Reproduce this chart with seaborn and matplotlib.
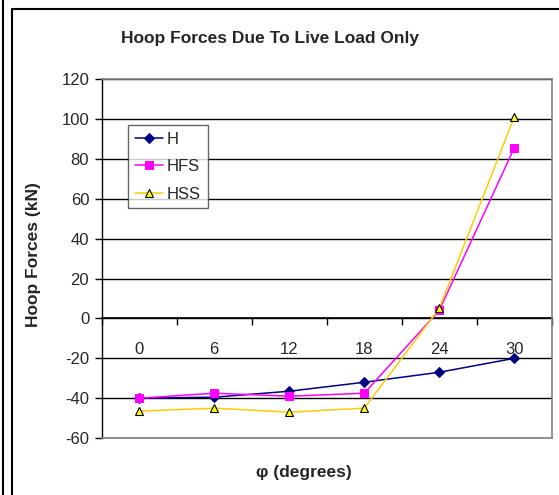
import matplotlib
matplotlib.use("Agg")
import matplotlib.pyplot as plt
from matplotlib.lines import Line2D
import seaborn as sns
import pandas as pd

categories = ["0", "6", "12", "18", "24", "30"]
H = [-40, -39.5, -36.5, -32, -27, -20]
HFS = [-40, -37.5, -39, -37.5, 4, 85.5]
HSS = [-46.5, -45, -47, -45, 5, 101]
yticks = [-60, -40, -20, 0, 20, 40, 60, 80, 100, 120]

sns.set_style("white")
plt.rcParams['font.family'] = ['Liberation Sans', 'DejaVu Sans']

rows = []
for name, vals in [("H", H), ("HFS", HFS), ("HSS", HSS)]:
    for i, (c, v) in enumerate(zip(categories, vals)):
        rows.append({"pos": i, "cat": c, "value": v, "series": name})
df = pd.DataFrame(rows)

fig = plt.figure(figsize=(5.59, 4.95), dpi=100)
ax = fig.add_axes([0.182, 0.115, 0.805, 0.725])

palette = {"H": "#000080", "HFS": "#FF00FF", "HSS": "#FFCC00"}
styles = {
    "H": dict(marker="D", ms=5, mfc="#000080", mec="#000080"),
    "HFS": dict(marker="s", ms=6, mfc="#FF00FF", mec="#FF00FF"),
    "HSS": dict(marker="^", ms=6, mfc="#FFFF00", mec="#000000", mew=0.8),
}
for name in ["H", "HFS", "HSS"]:
    sub = df[df.series == name]
    sns.lineplot(data=sub, x="pos", y="value", ax=ax, color=palette[name],
                 lw=1.1, sort=False, label=name, zorder=5, **styles[name])

ax.set_xlim(-0.5, len(categories) - 0.5)
ax.set_ylim(-60, 120)
ax.set_yticks(yticks)
ax.set_yticklabels([str(t) for t in yticks], fontsize=12)
ax.yaxis.grid(True, color="black", lw=1)
ax.set_axisbelow(True)
ax.tick_params(axis="y", direction="out", length=5, width=1, color="black", pad=4, left=True)

ax.set_xticks([])
ax.set_xlabel("")
ax.set_ylabel("")
for s in ["top", "right", "bottom"]:
    ax.spines[s].set_color("#808080")
    ax.spines[s].set_linewidth(1.2)
ax.spines["left"].set_color("black")
ax.spines["left"].set_linewidth(1)

# category axis crossing at y = 0
zero_frac = (0 - (-60)) / (120 - (-60))
sec = ax.secondary_xaxis(zero_frac)
sec.set_xticks([i - 0.5 for i in range(len(categories) + 1)])
sec.set_xticklabels([])
sec.tick_params(direction="out", length=5, width=1, color="black")
sec.spines["bottom"].set_color("black")
sec.spines["bottom"].set_linewidth(1.2)
sec2 = ax.secondary_xaxis(zero_frac)
sec2.set_xticks(range(len(categories)))
sec2.set_xticklabels(categories, fontsize=12)
sec2.tick_params(length=0, pad=17)
sec2.spines["bottom"].set_visible(False)

leg = ax.legend(loc="upper left", bbox_to_anchor=(0.058, 0.872), fontsize=12,
                frameon=True, fancybox=False, edgecolor="#404040",
                handlelength=1.7, handletextpad=0.25, borderpad=0.4,
                labelspacing=0.75, borderaxespad=0)
leg.get_frame().set_linewidth(1)
leg.set_zorder(10)

fig.text(270 / 559, 1 - 38 / 495, "Hoop Forces Due To Live Load Only",
         ha="center", va="center", fontsize=12.5, fontweight="bold")
fig.text(34 / 559, 1 - 255 / 495, "Hoop Forces (kN)", rotation=90,
         ha="center", va="center", fontsize=12.5, fontweight="bold")
fig.text(304 / 559, 1 - 472 / 495, "φ (degrees)",
         ha="center", va="center", fontsize=12.5, fontweight="bold")

# outer frame lines
fig.add_artist(Line2D([3 / 559, 3 / 559], [0, 1], color="black", lw=1.5, transform=fig.transFigure))
fig.add_artist(Line2D([12 / 559, 12 / 559], [0, 1 - 9 / 495], color="black", lw=1.5, transform=fig.transFigure))
fig.add_artist(Line2D([12 / 559, 1], [1 - 9 / 495, 1 - 9 / 495], color="black", lw=1.5, transform=fig.transFigure))

fig.savefig("out.png", dpi=100)
